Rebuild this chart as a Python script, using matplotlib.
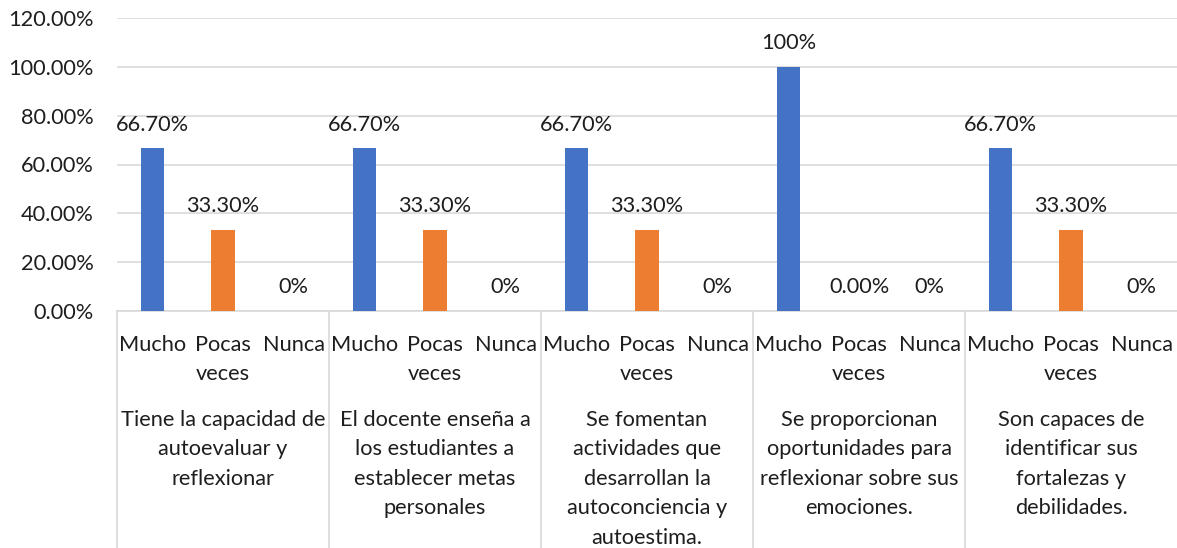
import matplotlib.pyplot as plt

plt.rcParams['font.family'] = ['Lato', 'DejaVu Sans']

# datos del grafico
preguntas = ["Tiene la capacidad de\nautoevaluar y\nreflexionar",
             "El docente enseña a\nlos estudiantes a\nestablecer metas\npersonales",
             "Se fomentan\nactividades que\ndesarrollan la\nautoconciencia y\nautoestima.",
             "Se proporcionan\noportunidades para\nreflexionar sobre sus\nemociones.",
             "Son capaces de\nidentificar sus\nfortalezas y\ndebilidades."]
respuestas = ["Mucho", "Pocas\nveces", "Nunca"]
valores = [0.667, 0.333, 0.0,
           0.667, 0.333, 0.0,
           0.667, 0.333, 0.0,
           1.0, 0.0, 0.0,
           0.667, 0.333, 0.0]
etiquetas = ["66.70%", "33.30%", "0%",
             "66.70%", "33.30%", "0%",
             "66.70%", "33.30%", "0%",
             "100%", "0.00%", "0%",
             "66.70%", "33.30%", "0%"]
colores = ["#4472C4", "#ED7D31", "#A5A5A5"]

texto = "#1E1E1E"
gris = "#D9D9D9"
fs = 15.7

fig = plt.figure(figsize=(11.77, 5.48), dpi=100)
ax = fig.add_axes([117 / 1177, 237 / 548, 1060 / 1177, 293 / 548])

x = list(range(len(valores)))
col = [colores[i % 3] for i in x]
ax.bar(x, valores, width=0.33, color=col, zorder=3)

# etiquetas de datos
for i in x:
    ax.annotate(etiquetas[i], (i, valores[i]), xytext=(0, 17), textcoords='offset points',
                ha='center', va='center', fontsize=fs, color=texto)

ax.set_xlim(-0.5, len(valores) - 0.5)
ax.set_ylim(0, 1.2)
ax.set_yticks([0, 0.2, 0.4, 0.6, 0.8, 1.0, 1.2])
ax.set_yticklabels(['{:.2f}%'.format(v * 100) for v in ax.get_yticks()], fontsize=fs, color=texto)
ax.tick_params(axis='y', length=0, pad=17)
ax.set_xticks([])
ax.grid(axis='y', color=gris, linewidth=1.2, zorder=0)
for s in ['top', 'right', 'left']:
    ax.spines[s].set_visible(False)
ax.spines['bottom'].set_color(gris)
ax.spines['bottom'].set_linewidth(1.2)

# etiquetas de categoria (dos niveles)
for i in x:
    ax.annotate(respuestas[i % 3], (i, 0), xycoords=('data', 'axes fraction'),
                xytext=(0, -17), textcoords='offset points', ha='center', va='top',
                fontsize=fs, color=texto, linespacing=1.6, annotation_clip=False)
for g in range(len(preguntas)):
    ax.annotate(preguntas[g], (g * 3 + 1, 0), xycoords=('data', 'axes fraction'),
                xytext=(0, -71), textcoords='offset points', ha='center', va='top',
                fontsize=fs, color=texto, linespacing=1.6, annotation_clip=False)

# lineas separadoras
for g in range(len(preguntas)):
    ax.plot([g * 3 - 0.5, g * 3 - 0.5], [0, -0.82], transform=ax.get_xaxis_transform(),
            color=gris, linewidth=1.2, clip_on=False)

fig.savefig('out.png', dpi=100)
